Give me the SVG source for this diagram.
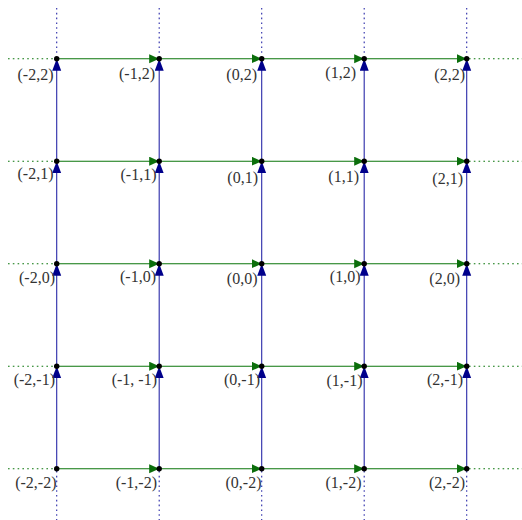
<svg xmlns="http://www.w3.org/2000/svg" width="522" height="520" viewBox="0 0 522 520">
<style>
.h{stroke:#0b760b;stroke-width:1.1;fill:none;marker-end:url(#ag)}
.v{stroke:#2a2aa8;stroke-width:1.1;fill:none;marker-end:url(#ab)}
.hd{stroke:#0b760b;stroke-width:1.1;stroke-dasharray:1.6 3.2;fill:none}
.vd{stroke:#2a2aa8;stroke-width:1.1;stroke-dasharray:1.6 3.2;fill:none}
.n circle{fill:#000}
.n text{font-family:"Liberation Serif","DejaVu Serif",serif;font-size:16px;fill:#333;text-anchor:end}
</style>
<defs>
<marker id="ag" markerUnits="userSpaceOnUse" markerWidth="12" markerHeight="10" refX="10" refY="4.5" orient="auto"><path d="M0,0 L10,4.5 L0,9 z" fill="#0b6e0b"/></marker>
<marker id="ab" markerUnits="userSpaceOnUse" markerWidth="13" markerHeight="10" refX="12" refY="4.5" orient="auto"><path d="M0,0 L12,4.5 L0,9 z" fill="#00008b"/></marker>
</defs>
<rect width="522" height="520" fill="#fff"/>
<g id="connectors">
<path class="vd" d="M56.7,8 V56 M159.2,8 V56 M261.7,8 V56 M364.2,8 V56 M466.7,8 V56"/>
<path class="vd" d="M56.7,471 V520 M159.2,471 V520 M261.7,471 V520 M364.2,471 V520 M466.7,471 V520"/>
<path class="hd" d="M8,58.7 H54 M8,161.2 H54 M8,263.7 H54 M8,366.2 H54 M8,468.7 H54"/>
<path class="hd" d="M469,58.7 H522 M469,161.2 H522 M469,263.7 H522 M469,366.2 H522 M469,468.7 H522"/>
<line class="h" x1="56.7" y1="58.7" x2="159.2" y2="58.7"/><line class="h" x1="159.2" y1="58.7" x2="261.7" y2="58.7"/><line class="h" x1="261.7" y1="58.7" x2="364.2" y2="58.7"/><line class="h" x1="364.2" y1="58.7" x2="466.7" y2="58.7"/>
<line class="h" x1="56.7" y1="161.2" x2="159.2" y2="161.2"/><line class="h" x1="159.2" y1="161.2" x2="261.7" y2="161.2"/><line class="h" x1="261.7" y1="161.2" x2="364.2" y2="161.2"/><line class="h" x1="364.2" y1="161.2" x2="466.7" y2="161.2"/>
<line class="h" x1="56.7" y1="263.7" x2="159.2" y2="263.7"/><line class="h" x1="159.2" y1="263.7" x2="261.7" y2="263.7"/><line class="h" x1="261.7" y1="263.7" x2="364.2" y2="263.7"/><line class="h" x1="364.2" y1="263.7" x2="466.7" y2="263.7"/>
<line class="h" x1="56.7" y1="366.2" x2="159.2" y2="366.2"/><line class="h" x1="159.2" y1="366.2" x2="261.7" y2="366.2"/><line class="h" x1="261.7" y1="366.2" x2="364.2" y2="366.2"/><line class="h" x1="364.2" y1="366.2" x2="466.7" y2="366.2"/>
<line class="h" x1="56.7" y1="468.7" x2="159.2" y2="468.7"/><line class="h" x1="159.2" y1="468.7" x2="261.7" y2="468.7"/><line class="h" x1="261.7" y1="468.7" x2="364.2" y2="468.7"/><line class="h" x1="364.2" y1="468.7" x2="466.7" y2="468.7"/>
<line class="v" x1="56.7" y1="468.7" x2="56.7" y2="366.2"/><line class="v" x1="56.7" y1="366.2" x2="56.7" y2="263.7"/><line class="v" x1="56.7" y1="263.7" x2="56.7" y2="161.2"/><line class="v" x1="56.7" y1="161.2" x2="56.7" y2="58.7"/>
<line class="v" x1="159.2" y1="468.7" x2="159.2" y2="366.2"/><line class="v" x1="159.2" y1="366.2" x2="159.2" y2="263.7"/><line class="v" x1="159.2" y1="263.7" x2="159.2" y2="161.2"/><line class="v" x1="159.2" y1="161.2" x2="159.2" y2="58.7"/>
<line class="v" x1="261.7" y1="468.7" x2="261.7" y2="366.2"/><line class="v" x1="261.7" y1="366.2" x2="261.7" y2="263.7"/><line class="v" x1="261.7" y1="263.7" x2="261.7" y2="161.2"/><line class="v" x1="261.7" y1="161.2" x2="261.7" y2="58.7"/>
<line class="v" x1="364.2" y1="468.7" x2="364.2" y2="366.2"/><line class="v" x1="364.2" y1="366.2" x2="364.2" y2="263.7"/><line class="v" x1="364.2" y1="263.7" x2="364.2" y2="161.2"/><line class="v" x1="364.2" y1="161.2" x2="364.2" y2="58.7"/>
<line class="v" x1="466.7" y1="468.7" x2="466.7" y2="366.2"/><line class="v" x1="466.7" y1="366.2" x2="466.7" y2="263.7"/><line class="v" x1="466.7" y1="263.7" x2="466.7" y2="161.2"/><line class="v" x1="466.7" y1="161.2" x2="466.7" y2="58.7"/>
</g>
<g id="n_m2_2" class="n"><circle cx="56.7" cy="58.7" r="2.7"/><text x="53.5" y="80">(-2,2)</text></g>
<g id="n_m1_2" class="n"><circle cx="159.2" cy="58.7" r="2.7"/><text x="155" y="79">(-1,2)</text></g>
<g id="n_0_2" class="n"><circle cx="261.7" cy="58.7" r="2.7"/><text x="257" y="80">(0,2)</text></g>
<g id="n_1_2" class="n"><circle cx="364.2" cy="58.7" r="2.7"/><text x="356" y="78">(1,2)</text></g>
<g id="n_2_2" class="n"><circle cx="466.7" cy="58.7" r="2.7"/><text x="465" y="80">(2,2)</text></g>
<g id="n_m2_1" class="n"><circle cx="56.7" cy="161.2" r="2.7"/><text x="53.5" y="179">(-2,1)</text></g>
<g id="n_m1_1" class="n"><circle cx="159.2" cy="161.2" r="2.7"/><text x="156.5" y="180">(-1,1)</text></g>
<g id="n_0_1" class="n"><circle cx="261.7" cy="161.2" r="2.7"/><text x="258" y="183">(0,1)</text></g>
<g id="n_1_1" class="n"><circle cx="364.2" cy="161.2" r="2.7"/><text x="359" y="182">(1,1)</text></g>
<g id="n_2_1" class="n"><circle cx="466.7" cy="161.2" r="2.7"/><text x="463" y="184">(2,1)</text></g>
<g id="n_m2_0" class="n"><circle cx="56.7" cy="263.7" r="2.7"/><text x="55" y="283">(-2,0)</text></g>
<g id="n_m1_0" class="n"><circle cx="159.2" cy="263.7" r="2.7"/><text x="156" y="282">(-1,0)</text></g>
<g id="n_0_0" class="n"><circle cx="261.7" cy="263.7" r="2.7"/><text x="257.5" y="284">(0,0)</text></g>
<g id="n_1_0" class="n"><circle cx="364.2" cy="263.7" r="2.7"/><text x="360.5" y="282">(1,0)</text></g>
<g id="n_2_0" class="n"><circle cx="466.7" cy="263.7" r="2.7"/><text x="460" y="284">(2,0)</text></g>
<g id="n_m2_m1" class="n"><circle cx="56.7" cy="366.2" r="2.7"/><text x="55" y="385">(-2,-1)</text></g>
<g id="n_m1_m1" class="n"><circle cx="159.2" cy="366.2" r="2.7"/><text x="157" y="385" xml:space="preserve">(-1, -1)</text></g>
<g id="n_0_m1" class="n"><circle cx="261.7" cy="366.2" r="2.7"/><text x="260" y="385">(0,-1)</text></g>
<g id="n_1_m1" class="n"><circle cx="364.2" cy="366.2" r="2.7"/><text x="362.5" y="386">(1,-1)</text></g>
<g id="n_2_m1" class="n"><circle cx="466.7" cy="366.2" r="2.7"/><text x="463" y="385">(2,-1)</text></g>
<g id="n_m2_m2" class="n"><circle cx="56.7" cy="468.7" r="2.7"/><text x="56.5" y="488">(-2,-2)</text></g>
<g id="n_m1_m2" class="n"><circle cx="159.2" cy="468.7" r="2.7"/><text x="157" y="488">(-1,-2)</text></g>
<g id="n_0_m2" class="n"><circle cx="261.7" cy="468.7" r="2.7"/><text x="261.5" y="488">(0,-2)</text></g>
<g id="n_1_m2" class="n"><circle cx="364.2" cy="468.7" r="2.7"/><text x="361.5" y="488">(1,-2)</text></g>
<g id="n_2_m2" class="n"><circle cx="466.7" cy="468.7" r="2.7"/><text x="465" y="488">(2,-2)</text></g>
</svg>
